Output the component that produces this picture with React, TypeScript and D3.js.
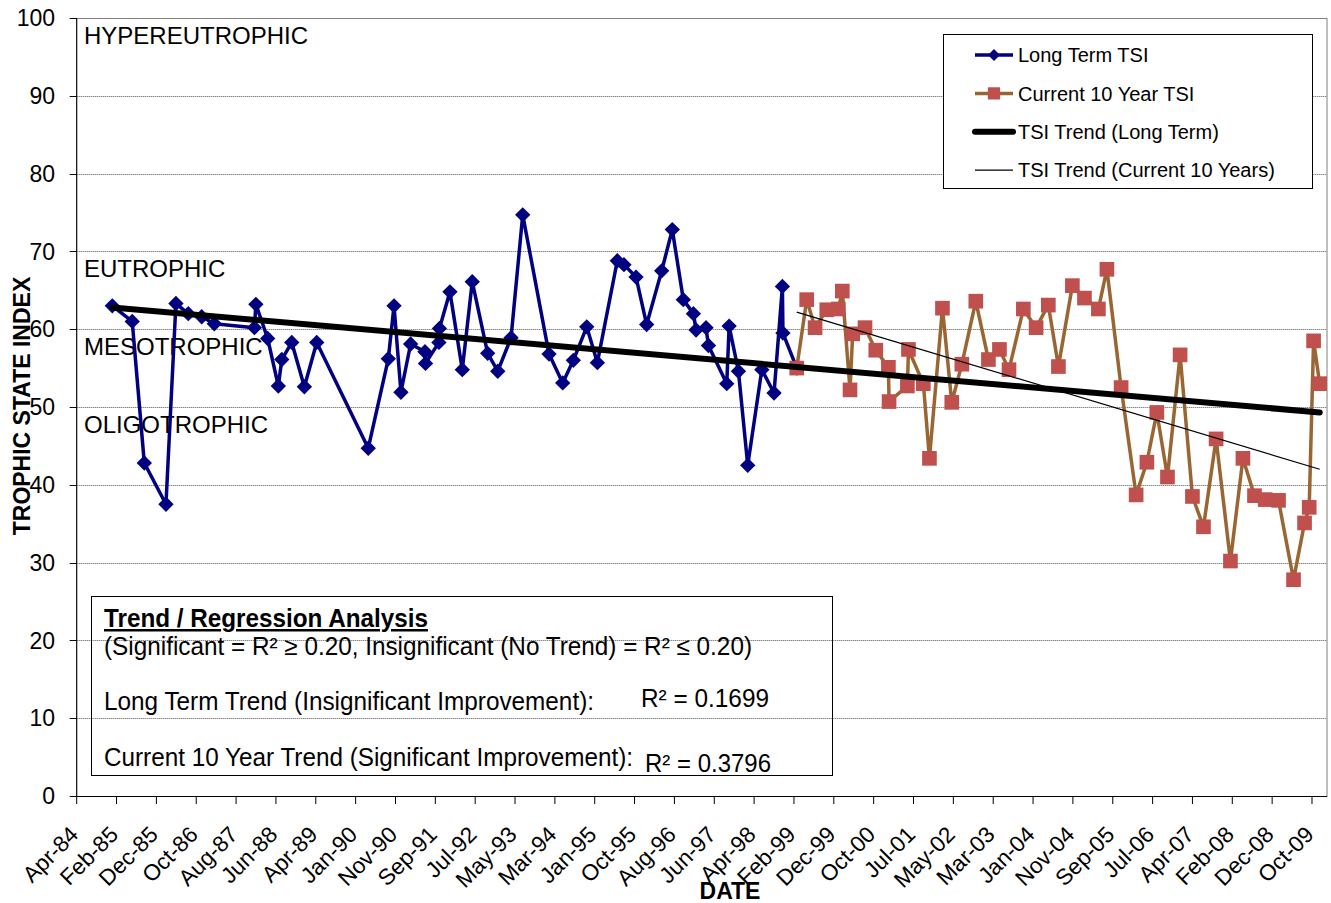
import { useEffect, useRef } from 'react';
import * as d3 from 'd3';

// Long Term TSI (sample dates and values)
const longTermDates = [
  '1985-01-23', '1985-06-22', '1985-09-21', '1986-03-03', '1986-05-17', '1986-08-18',
  '1986-11-27', '1987-03-02', '1987-12-29', '1988-01-09', '1988-04-07', '1988-06-26',
  '1988-07-22', '1988-10-05', '1989-01-08', '1989-04-11', '1990-05-04', '1990-10-02',
  '1990-11-14', '1991-01-05', '1991-03-19', '1991-07-05', '1991-07-09', '1991-10-18',
  '1991-10-22', '1992-01-09', '1992-04-11', '1992-06-25', '1992-10-19', '1993-01-03',
  '1993-04-13', '1993-07-10', '1994-01-24', '1994-05-07', '1994-07-26', '1994-11-04',
  '1995-01-23', '1995-06-22', '1995-08-11', '1995-11-10', '1996-01-29', '1996-05-21',
  '1996-08-09', '1996-10-31', '1997-01-15', '1997-02-04', '1997-04-20', '1997-05-08',
  '1997-09-23', '1997-10-11', '1997-12-20', '1998-02-28', '1998-06-14', '1998-09-14',
  '1998-11-16', '1998-11-20', '1999-03-04',
];
const longTermTSI = [
  63.0, 61.0, 42.8, 37.5, 63.3, 62.0,
  61.6, 60.7, 60.2, 63.2, 58.8, 52.7,
  56.1, 58.3, 52.6, 58.3, 44.7, 56.2,
  63.0, 51.9, 58.1, 57.1, 55.6, 58.3,
  60.1, 64.8, 54.8, 66.1, 56.9, 54.6,
  58.9, 74.7, 56.8, 53.1, 56.0, 60.3,
  55.7, 68.8, 68.3, 66.7, 60.6, 67.5,
  72.8, 63.8, 62.0, 59.9, 60.2, 57.9,
  53.0, 60.4, 54.6, 42.5, 54.8, 51.8,
  65.5, 59.5, 55.0,
];

// Current 10 Year TSI
const currentDates = [
  '1999-03-04', '1999-05-18', '1999-07-20', '1999-10-16', '2000-01-11', '2000-02-10',
  '2000-04-08', '2000-04-28', '2000-07-30', '2000-10-19', '2001-01-22', '2001-01-27',
  '2001-06-14', '2001-06-22', '2001-10-12', '2001-11-27', '2002-03-05', '2002-05-14',
  '2002-07-29', '2002-11-11', '2003-02-14', '2003-05-08', '2003-07-19', '2003-11-04',
  '2004-02-08', '2004-05-10', '2004-07-25', '2004-11-07', '2005-02-06', '2005-05-22',
  '2005-07-25', '2005-11-09', '2006-03-02', '2006-05-22', '2006-08-05', '2006-10-24',
  '2007-01-27', '2007-04-30', '2007-07-22', '2007-10-25', '2008-02-10', '2008-05-14',
  '2008-08-09', '2008-10-29', '2009-02-06', '2009-05-30', '2009-08-21', '2009-09-25',
  '2009-10-28', '2009-12-13',
];
const currentTSI = [
  55.0, 63.8, 60.2, 62.5, 62.6, 64.9,
  52.2, 59.4, 60.2, 57.3, 55.1, 50.7,
  52.7, 57.4, 53.0, 43.4, 62.7, 50.6,
  55.5, 63.6, 56.1, 57.4, 54.8, 62.6,
  60.2, 63.1, 55.2, 65.6, 64.0, 62.6,
  67.7, 52.5, 38.7, 42.9, 49.3, 41.0,
  56.7, 38.5, 34.6, 45.9, 30.2, 43.4,
  38.6, 38.1, 38.0, 27.8, 35.1, 37.1,
  58.5, 53.0,
];

// Trend lines (end points)
const longTrendDates = ['1985-01-23', '2009-12-13'];
const longTrendTSI = [62.8, 49.3];
const currentTrendDates = ['1999-03-04', '2009-12-13'];
const currentTrendTSI = [62.2, 42.0];

// Axes
const axisStart = '1984-04-30';
const axisEnd = '2010-02-06';
const tickStepDays = 300;
const xTickLabels = [
  'Apr-84', 'Feb-85', 'Dec-85', 'Oct-86', 'Aug-87', 'Jun-88', 'Apr-89', 'Jan-90',
  'Nov-90', 'Sep-91', 'Jul-92', 'May-93', 'Mar-94', 'Jan-95', 'Oct-95', 'Aug-96',
  'Jun-97', 'Apr-98', 'Feb-99', 'Dec-99', 'Oct-00', 'Jul-01', 'May-02', 'Mar-03',
  'Jan-04', 'Nov-04', 'Sep-05', 'Jul-06', 'Apr-07', 'Feb-08', 'Dec-08', 'Oct-09',
];
const yTicks = [0, 10, 20, 30, 40, 50, 60, 70, 80, 90, 100];

// Trophic zones (label sits just under the zone's upper bound)
const zoneLabels = ['HYPEREUTROPHIC', 'EUTROPHIC', 'MESOTROPHIC', 'OLIGOTROPHIC'];
const zoneTops = [100, 70, 60, 50];

const legendLabels = [
  'Long Term TSI',
  'Current 10 Year TSI',
  'TSI Trend (Long Term)',
  'TSI Trend (Current 10 Years)',
];

const FONT = "'Liberation Sans', Arial, Helvetica, sans-serif";
const NARROW = "'Liberation Sans Narrow', 'Arial Narrow', 'Liberation Sans', Arial, sans-serif";

const App = () => {
  const ref = useRef<SVGSVGElement>(null);

  useEffect(() => {
    const svg = d3.select(ref.current);
    svg.selectAll('*').remove();

    const left = 76.7;
    const right = 1327;
    const top = 18;
    const bottom = 796;

    const parse = d3.utcParse('%Y-%m-%d');
    const x = d3
      .scaleUtc()
      .domain([parse(axisStart)!, parse(axisEnd)!])
      .range([left, right]);
    const y = d3.scaleLinear().domain([0, 100]).range([bottom, top]);

    svg.append('rect').attr('width', 1331).attr('height', 903).attr('fill', '#fff');

    // gridlines
    svg
      .append('g')
      .selectAll('line')
      .data(yTicks.filter((t) => t > 0 && t < 100))
      .enter()
      .append('line')
      .attr('x1', left)
      .attr('x2', right)
      .attr('y1', (d) => Math.round(y(d)) + 0.5)
      .attr('y2', (d) => Math.round(y(d)) + 0.5)
      .attr('stroke', '#555')
      .attr('stroke-width', 1)
      .attr('stroke-dasharray', '1 1');

    // plot border
    svg
      .append('rect')
      .attr('x', left)
      .attr('y', top + 0.5)
      .attr('width', right - left)
      .attr('height', bottom - top)
      .attr('fill', 'none')
      .attr('stroke', '#808080');

    // Y axis
    const yAxis = svg.append('g');
    yAxis
      .append('line')
      .attr('x1', left)
      .attr('x2', left)
      .attr('y1', top)
      .attr('y2', bottom)
      .attr('stroke', '#000');
    yTicks.forEach((t) => {
      const yy = Math.round(y(t)) + 0.5;
      yAxis
        .append('line')
        .attr('x1', left - 7)
        .attr('x2', left)
        .attr('y1', yy)
        .attr('y2', yy)
        .attr('stroke', '#000');
      yAxis
        .append('text')
        .attr('x', 55)
        .attr('y', y(t))
        .attr('dy', '0.36em')
        .attr('text-anchor', 'end')
        .attr('font-family', FONT)
        .attr('font-size', 23)
        .text(t);
    });

    // X axis
    const xAxis = svg.append('g');
    xAxis
      .append('line')
      .attr('x1', left)
      .attr('x2', right)
      .attr('y1', bottom + 0.5)
      .attr('y2', bottom + 0.5)
      .attr('stroke', '#000');
    xTickLabels.forEach((label, i) => {
      const xx = x(d3.utcDay.offset(parse(axisStart)!, i * tickStepDays));
      xAxis
        .append('line')
        .attr('x1', xx)
        .attr('x2', xx)
        .attr('y1', bottom)
        .attr('y2', bottom + 8)
        .attr('stroke', '#000');
      xAxis
        .append('text')
        .attr('transform', `translate(${xx + 3},${bottom + 40}) rotate(-45)`)
        .attr('text-anchor', 'end')
        .attr('font-family', FONT)
        .attr('font-size', 22.5)
        .text(label);
    });

    // axis titles
    svg
      .append('text')
      .attr('x', 730)
      .attr('y', 899)
      .attr('text-anchor', 'middle')
      .attr('font-family', FONT)
      .attr('font-weight', 'bold')
      .attr('font-size', 23)
      .text('DATE');
    svg
      .append('text')
      .attr('transform', 'translate(30,406) rotate(-90)')
      .attr('text-anchor', 'middle')
      .attr('font-family', FONT)
      .attr('font-weight', 'bold')
      .attr('font-size', 23)
      .text('TROPHIC STATE INDEX');

    // zone labels
    zoneLabels.forEach((label, i) => {
      svg
        .append('text')
        .attr('x', 84)
        .attr('y', y(zoneTops[i]) + 26)
        .attr('font-family', FONT)
        .attr('font-size', 24)
        .text(label);
    });

    const line = d3
      .line<[string, number]>()
      .x((d) => x(parse(d[0])!))
      .y((d) => y(d[1]));

    const diamondType = (d3 as any).symbolDiamond2 || d3.symbolDiamond;

    // Long Term TSI
    const longData = longTermDates.map((d, i) => [d, longTermTSI[i]] as [string, number]);
    svg
      .append('path')
      .datum(longData)
      .attr('d', line)
      .attr('fill', 'none')
      .attr('stroke', '#000080')
      .attr('stroke-width', 3.5)
      .attr('stroke-linejoin', 'round');
    svg
      .append('g')
      .selectAll('path')
      .data(longData)
      .enter()
      .append('path')
      .attr('transform', (d) => `translate(${x(parse(d[0])!)},${y(d[1])})`)
      .attr('d', d3.symbol().type(diamondType).size(150)())
      .attr('fill', '#000080');

    // Current 10 Year TSI
    const curData = currentDates.map((d, i) => [d, currentTSI[i]] as [string, number]);
    svg
      .append('path')
      .datum(curData)
      .attr('d', line)
      .attr('fill', 'none')
      .attr('stroke', '#996633')
      .attr('stroke-width', 3.5)
      .attr('stroke-linejoin', 'round');
    svg
      .append('g')
      .selectAll('path')
      .data(curData)
      .enter()
      .append('path')
      .attr('transform', (d) => `translate(${x(parse(d[0])!)},${y(d[1])})`)
      .attr('d', d3.symbol().type(d3.symbolSquare).size(215)())
      .attr('fill', '#C0504D');

    // trend lines
    svg
      .append('path')
      .datum(longTrendDates.map((d, i) => [d, longTrendTSI[i]] as [string, number]))
      .attr('d', line)
      .attr('fill', 'none')
      .attr('stroke', '#000')
      .attr('stroke-width', 6)
      .attr('stroke-linecap', 'round');
    svg
      .append('path')
      .datum(currentTrendDates.map((d, i) => [d, currentTrendTSI[i]] as [string, number]))
      .attr('d', line)
      .attr('fill', 'none')
      .attr('stroke', '#000')
      .attr('stroke-width', 1.2);

    // legend
    const lg = svg.append('g');
    lg.append('rect')
      .attr('x', 943.5)
      .attr('y', 34.5)
      .attr('width', 369)
      .attr('height', 154)
      .attr('fill', '#fff')
      .attr('stroke', '#000');
    legendLabels.forEach((label, i) => {
      const cy = 55 + i * 38.4;
      const row = lg.append('g');
      const styles = [
        { c: '#000080', w: 3.5 },
        { c: '#996633', w: 3.5 },
        { c: '#000', w: 6 },
        { c: '#000', w: 1.2 },
      ][i];
      row
        .append('line')
        .attr('x1', 975)
        .attr('x2', 1013)
        .attr('y1', cy)
        .attr('y2', cy)
        .attr('stroke', styles.c)
        .attr('stroke-width', styles.w)
        .attr('stroke-linecap', i === 2 ? 'round' : 'butt');
      if (i === 0) {
        row
          .append('path')
          .attr('transform', `translate(994,${cy})`)
          .attr('d', d3.symbol().type(diamondType).size(90)())
          .attr('fill', '#000080');
      }
      if (i === 1) {
        row
          .append('path')
          .attr('transform', `translate(994,${cy})`)
          .attr('d', d3.symbol().type(d3.symbolSquare).size(150)())
          .attr('fill', '#C0504D');
      }
      row
        .append('text')
        .attr('x', 1018)
        .attr('y', cy)
        .attr('dy', '0.36em')
        .attr('font-family', FONT)
        .attr('font-size', 20)
        .text(label);
    });

    // regression analysis box
    const rb = svg.append('g');
    rb.append('rect')
      .attr('x', 91.5)
      .attr('y', 596.5)
      .attr('width', 741)
      .attr('height', 179)
      .attr('fill', 'none')
      .attr('stroke', '#000');
    const boxText = (
      txt: string,
      tx: number,
      ty: number,
      len: number,
      bold = false,
    ) =>
      rb
        .append('text')
        .attr('x', tx)
        .attr('y', ty)
        .attr('font-family', NARROW)
        .attr('font-size', 25)
        .attr('font-weight', bold ? 'bold' : 'normal')
        .attr('text-decoration', bold ? 'underline' : 'none')
        .attr('textLength', len)
        .attr('lengthAdjust', 'spacingAndGlyphs')
        .text(txt);
    boxText('Trend / Regression Analysis', 104, 627, 324, true);
    boxText('(Significant = R² ≥ 0.20, Insignificant (No Trend) = R² ≤ 0.20)', 104, 655, 648);
    boxText('Long Term Trend (Insignificant Improvement):', 104, 710, 490);
    boxText('R² = 0.1699', 641, 707, 128);
    boxText('Current 10 Year Trend (Significant Improvement):', 104, 766, 529);
    boxText('R² = 0.3796', 645, 772, 126);
  }, []);

  return (
    <svg
      ref={ref}
      width={1331}
      height={903}
      style={{ position: 'absolute', left: 0, top: 0, display: 'block' }}
    />
  );
};

export default App;
